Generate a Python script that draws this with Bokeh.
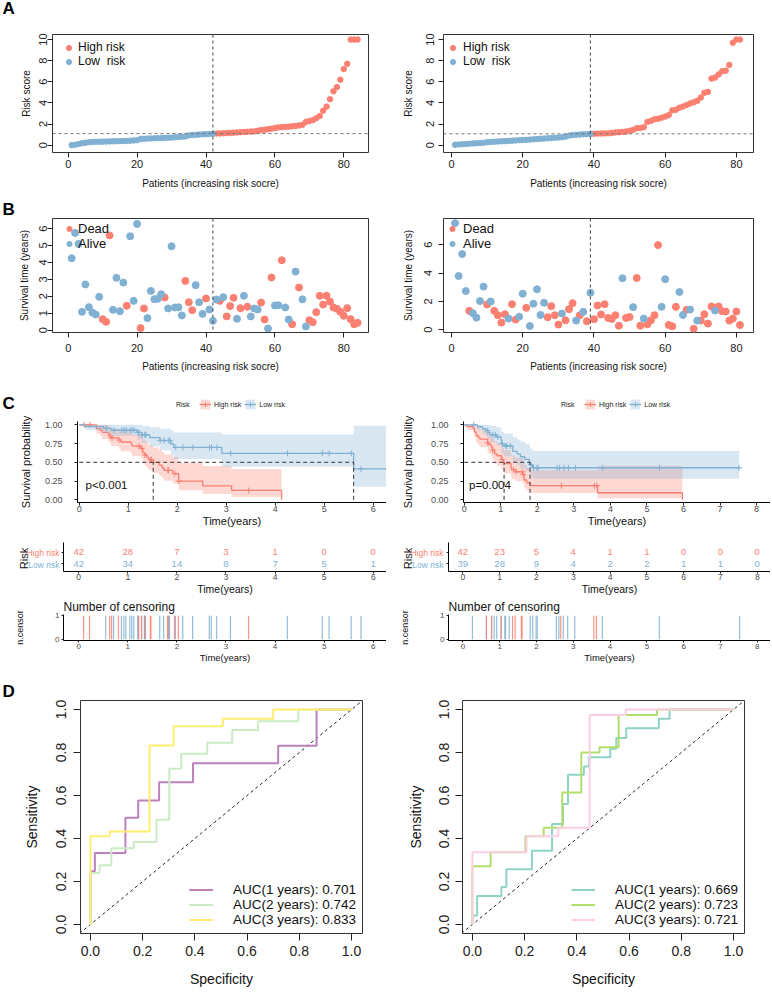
import math
import numpy as np
from bokeh.plotting import figure
from bokeh.layouts import column, row
from bokeh.models import (Range1d, FixedTicker, NumeralTickFormatter, Span, Legend,
                          LegendItem, Label, Slope)
from bokeh.core.properties import value
from bokeh.embed import file_html
from bokeh.resources import INLINE

# ------------------------------------------------------------------ data
# training cohort (left column)
risk_score_train = [0.0, 0.03, 0.1, 0.18, 0.22, 0.27, 0.3, 0.31, 0.32, 0.33, 0.34, 0.35, 0.36, 0.37,
                    0.38, 0.39, 0.4, 0.42, 0.44, 0.47, 0.58, 0.6, 0.62, 0.63, 0.65, 0.66, 0.67, 0.68,
                    0.7, 0.72, 0.74, 0.76, 0.8, 0.82, 0.92, 0.95, 0.98, 1.0, 1.02, 1.04, 1.06, 1.08,
                    1.1, 1.11, 1.12, 1.14, 1.16, 1.18, 1.2, 1.22, 1.24, 1.26, 1.28, 1.3, 1.36, 1.42,
                    1.46, 1.5, 1.56, 1.62, 1.68, 1.7, 1.72, 1.75, 1.78, 1.82, 1.86, 1.92, 2.2, 2.28,
                    2.36, 2.55, 2.75, 3.26, 3.65, 4.35, 5.1, 5.5, 6.2, 7.2, 7.7, 10.0, 10.0, 10.0]
n_low_train = 42
surv_time_train = [4.25, 5.75, 5.1, 1.08, 2.7, 1.36, 1.04, 0.92, 1.97, 0.65,
                   0.49, 5.6, 1.2, 3.09, 1.12, 2.81, 1.44, 5.55, 1.73, 6.28,
                   0.12, 1.28, 0.71, 2.32, 1.83, 1.85, 2.12, 1.93, 1.28, 4.96,
                   1.34, 1.35, 0.87, 2.91, 1.65, 1.18, 2.66, 1.65, 0.96, 1.87,
                   1.22, 0.55, 1.81, 1.73, 1.95, 0.81, 1.42, 1.91, 0.67, 1.3,
                   2.03, 1.38, 0.81, 1.28, 1.22, 1.63, 0.63, 0.1, 3.11, 1.46,
                   1.47, 4.13, 1.34, 0.63, 0.35, 3.46, 2.52, 1.82, 0.22, 0.59,
                   0.47, 1.06, 2.03, 1.51, 2.03, 1.69, 1.34, 1.26, 1.08, 0.85,
                   1.3, 0.65, 0.35, 0.43]
status_train = [0, 0, 0, 0, 0, 0, 0, 0, 0, 1,
                1, 1, 0, 0, 0, 0, 1, 0, 0, 0,
                1, 1, 0, 0, 0, 0, 0, 1, 0, 0,
                0, 0, 0, 1, 1, 1, 0, 0, 0, 1,
                0, 0, 0, 1, 0, 1, 1, 1, 0, 1,
                0, 1, 0, 0, 0, 1, 1, 0, 1, 0,
                0, 1, 0, 0, 1, 0, 1, 0, 0, 1,
                1, 1, 1, 1, 1, 1, 1, 1, 1, 1,
                1, 1, 1, 1]
pval_train = "p<0.001"

# validation cohort (right column)
risk_score_test = [0.03, 0.06, 0.08, 0.1, 0.13, 0.16, 0.18, 0.2, 0.22, 0.28, 0.3, 0.32, 0.34,
                   0.36, 0.38, 0.4, 0.42, 0.44, 0.46, 0.48, 0.5, 0.52, 0.55, 0.57, 0.6, 0.62,
                   0.65, 0.67, 0.7, 0.72, 0.75, 0.8, 0.9, 0.95, 0.98, 1.0, 1.02, 1.04, 1.06,
                   1.08, 1.09, 1.1, 1.11, 1.12, 1.15, 1.2, 1.22, 1.25, 1.28, 1.35, 1.45, 1.6,
                   1.62, 1.7, 2.2, 2.3, 2.45, 2.5, 2.6, 2.7, 2.85, 3.3, 3.35, 3.55, 3.65, 3.8,
                   3.95, 4.05, 4.2, 4.5, 4.95, 5.05, 6.3, 6.4, 6.7, 7.0, 7.05, 7.6, 9.7, 10.0, 10.0]
n_low_test = 39
surv_time_test = [7.52, 3.79, 5.34, 2.73, 1.33, 1.16, 0.85, 2.02, 3.04, 1.78,
                  1.99, 1.33, 1.02, 0.5, 1.09, 0.78, 1.8, 0.71, 0.92, 2.54,
                  1.54, 0.26, 1.83, 2.85, 1.04, 1.9, 0.88, 1.66, 1.02, 0.36,
                  1.14, 0.66, 1.45, 1.87, 0.64, 1.01, 1.26, 0.59, 2.61, 0.74,
                  1.71, 1.07, 1.8, 0.83, 0.76, 1.02, 0.28, 3.63, 0.83, 0.9,
                  1.59, 3.65, 0.28, 0.78, 0.38, 0.66, 1.02, 5.97, 1.61, 3.56,
                  0.33, 0.24, 1.61, 2.66, 1.04, 1.4, 1.42, 0.07, 0.64, 0.64,
                  1.09, 0.43, 1.64, 1.35, 1.64, 1.3, 1.28, 0.64, 0.78, 1.28,
                  0.33]
status_test = [0, 0, 0, 0, 1, 0, 0, 0, 0, 1,
               0, 1, 1, 1, 1, 0, 1, 1, 0, 0,
               1, 0, 0, 0, 0, 0, 1, 1, 1, 1,
               0, 1, 1, 1, 0, 1, 0, 1, 0, 1,
               1, 1, 1, 1, 1, 1, 1, 0, 1, 1,
               0, 1, 1, 0, 1, 1, 1, 1, 0, 0,
               1, 1, 1, 0, 0, 1, 0, 1, 0, 1,
               1, 1, 1, 0, 1, 1, 1, 1, 1, 1,
               1]
pval_test = "p=0.004"

# time-dependent ROC points (x = 1 - specificity, y = sensitivity)
roc_train_1y_fpr = [0, 0, 0.017, 0.017, 0.134, 0.134, 0.183, 0.183, 0.263, 0.263, 0.393, 0.393,
                    0.719, 0.719, 0.866, 0.866, 1.0]
roc_train_1y_tpr = [0, 0.248, 0.248, 0.332, 0.332, 0.496, 0.496, 0.577, 0.577, 0.662, 0.662, 0.75,
                    0.75, 0.831, 0.831, 1.0, 1.0]
roc_train_2y_fpr = [0, 0, 0.035, 0.035, 0.08, 0.08, 0.166, 0.166, 0.253, 0.253, 0.302, 0.302,
                    0.348, 0.348, 0.447, 0.447, 0.543, 0.543, 0.642, 0.642, 0.796, 0.796, 1.0]
roc_train_2y_tpr = [0, 0.24, 0.24, 0.276, 0.276, 0.355, 0.355, 0.384, 0.384, 0.487, 0.487, 0.724,
                    0.724, 0.794, 0.794, 0.845, 0.845, 0.905, 0.905, 0.945, 0.945, 1.0, 1.0]
roc_train_3y_fpr = [0, 0, 0.074, 0.074, 0.226, 0.226, 0.319, 0.319, 0.507, 0.507, 0.7, 0.7, 1.0]
roc_train_3y_tpr = [0, 0.411, 0.411, 0.433, 0.433, 0.833, 0.833, 0.922, 0.922, 0.957, 0.957, 1.0, 1.0]
roc_train_labels = ["AUC(1 years): 0.701", "AUC(2 years): 0.742", "AUC(3 years): 0.833"]

roc_test_1y_fpr = [0, 0, 0.018, 0.018, 0.111, 0.111, 0.13, 0.13, 0.228, 0.228, 0.305, 0.305,
                   0.347, 0.347, 0.366, 0.366, 0.427, 0.427, 0.446, 0.446, 0.528, 0.528, 0.551,
                   0.551, 0.589, 0.589, 0.714, 0.714, 0.755, 0.755, 1.0]
roc_test_1y_tpr = [0, 0.042, 0.042, 0.132, 0.132, 0.174, 0.174, 0.257, 0.257, 0.343, 0.343, 0.468,
                   0.468, 0.561, 0.561, 0.696, 0.696, 0.735, 0.735, 0.778, 0.778, 0.817, 0.817,
                   0.867, 0.867, 0.913, 0.913, 0.957, 0.957, 1.0, 1.0]
roc_test_2y_fpr = [0, 0, 0.07, 0.07, 0.203, 0.203, 0.273, 0.273, 0.344, 0.344, 0.417, 0.417,
                   0.487, 0.487, 0.56, 0.56, 0.707, 0.707, 1.0]
roc_test_2y_tpr = [0, 0.271, 0.271, 0.336, 0.336, 0.411, 0.411, 0.45, 0.45, 0.614, 0.614, 0.8,
                   0.8, 0.825, 0.825, 0.975, 0.975, 1.0, 1.0]
roc_test_3y_fpr = [0, 0, 0.207, 0.207, 0.329, 0.329, 0.449, 0.449, 0.587, 0.587, 1.0]
roc_test_3y_tpr = [0, 0.336, 0.336, 0.41, 0.41, 0.45, 0.45, 0.975, 0.975, 1.0, 1.0]
roc_test_labels = ["AUC(1 years): 0.669", "AUC(2 years): 0.723", "AUC(3 years): 0.721"]

# tick labels
patient_ticks = [0, 20, 40, 60, 80]
risk_ticks = [0, 2, 4, 6, 8, 10]
surv_ticks_train = [0, 1, 2, 3, 4, 5, 6]
surv_ticks_test = [0, 2, 4, 6]
time_ticks_train = [0, 1, 2, 3, 4, 5, 6]
time_ticks_test = [0, 1, 2, 3, 4, 5, 6, 7, 8]
prob_ticks = [0, 0.25, 0.5, 0.75, 1.0]
roc_ticks = [0, 0.2, 0.4, 0.6, 0.8, 1.0]

# ------------------------------------------------------------------ style
FONT = "Liberation Sans"
RED = "#FB8072"
BLUE = "#80B1D3"
ROC_COLS_TRAIN = ["#BC80BD", "#CCEBC5", "#FFED6F"]
ROC_COLS_TEST = ["#8DD3C7", "#B3DE69", "#FCCDE5"]
WL = 386   # left column width
WR = 384   # right column width


def make_fig(w, h, xr, yr, ml, mr, mt, mb, titled=False):
    kw = {} if titled else {"title": None}
    p = figure(width=w, height=h, x_range=Range1d(*xr), y_range=Range1d(*yr),
               output_backend="svg", toolbar_location=None,
               min_border_left=ml, min_border_right=mr, min_border_top=mt, min_border_bottom=mb, **kw)
    p.grid.visible = False
    p.background_fill_color = "white"
    p.border_fill_color = "white"
    return p


def side_fig(w, h, texts):
    # blank strip that only carries texts (panel letters, axis titles, row names)
    f = make_fig(w, h, (0, w), (0, h), 0, 0, 0, 0)
    f.frame_align = False
    f.axis.visible = False
    f.outline_line_color = None
    for (txt, x, y, size, bold, align, angle, color) in texts:
        f.add_layout(Label(x=x, y=y, text=txt, text_font=FONT, text_font_size=size,
                           text_font_style="bold" if bold else "normal", text_align=align,
                           text_baseline="middle", angle=angle, text_color=color))
    return f


def letter(p, txt, offset, standoff):
    p.title.text = txt
    p.title.align = "left"
    p.title.offset = offset
    p.title.standoff = standoff
    p.title.text_font = FONT
    p.title.text_font_size = "17px"
    p.title.text_font_style = "bold"
    p.title.text_color = "black"


def axis_common(ax, tick_len, tick_px, lab_px, std, lab_std, color="#222222"):
    ax.major_tick_out = tick_len
    ax.major_tick_in = 0
    ax.minor_tick_out = 0
    ax.minor_tick_in = 0
    ax.major_tick_line_color = "#222222"
    ax.major_label_text_font = FONT
    ax.major_label_text_font_size = f"{tick_px}px"
    ax.major_label_text_color = color
    ax.major_label_standoff = std
    ax.axis_label_text_font = FONT
    ax.axis_label_text_font_size = f"{lab_px}px"
    ax.axis_label_text_font_style = "normal"
    ax.axis_label_text_color = "#111111"
    ax.axis_label_standoff = lab_std


def r_style(p, xticks, yticks, xlab, ylab, tick_len, tick_px, lab_px, xs, xls, ys, yls, fmt=None):
    p.outline_line_color = "#333333"
    p.outline_line_width = 1
    p.xaxis.ticker = FixedTicker(ticks=xticks)
    p.yaxis.ticker = FixedTicker(ticks=yticks)
    if fmt:
        p.xaxis.formatter = NumeralTickFormatter(format=fmt)
        p.yaxis.formatter = NumeralTickFormatter(format=fmt)
    for ax in p.xaxis:
        ax.axis_line_color = None
        axis_common(ax, tick_len, tick_px, lab_px, xs, xls)
        ax.axis_label = xlab
    for ax in p.yaxis:
        ax.axis_line_color = None
        axis_common(ax, tick_len, tick_px, lab_px, ys, yls)
        ax.axis_label = ylab
        ax.major_label_orientation = "vertical"


def gg_style(p, xticks, yticks, tick_len, tick_px, xs, ys, xlab, ylab, xlab_px, ylab_px, xls, yls):
    p.outline_line_color = None
    p.xaxis.ticker = FixedTicker(ticks=xticks)
    p.yaxis.ticker = FixedTicker(ticks=yticks)
    for ax, s, lab, lpx, ls in ((p.xaxis[0], xs, xlab, xlab_px, xls), (p.yaxis[0], ys, ylab, ylab_px, yls)):
        ax.axis_line_color = "black"
        ax.axis_line_width = 1
        axis_common(ax, tick_len, tick_px, lpx, s, ls, color="#4D4D4D")
        ax.axis_label = lab


# ------------------------------------------------------------------ A: risk score
def risk_fig(w, scores, n_low, ml, mr, xr, leg_x, leg_std, ys, yls):
    sc = np.asarray(scores, float)
    idx = np.arange(1, len(sc) + 1)
    p = make_fig(w, 194, xr, (-0.7, 10.48), ml, mr, 34, 42)
    r_hi = p.scatter(idx[n_low:], sc[n_low:], size=5.5, color=RED)
    r_lo = p.scatter(idx[:n_low], sc[:n_low], size=5.5, color=BLUE)
    p.add_layout(Span(location=n_low, dimension="height", line_dash="3 3", line_color="#444444", line_width=1))
    p.add_layout(Span(location=(sc[n_low - 1] + sc[n_low]) / 2, dimension="width",
                      line_dash="3 3", line_color="#777777", line_width=1))
    r_style(p, patient_ticks, risk_ticks, "Patients (increasing risk socre)", "Risk score",
            5, 11, 10, 2, 7, ys, yls)
    leg = Legend(items=[LegendItem(label="High risk", renderers=[r_hi]),
                        LegendItem(label="Low  risk", renderers=[r_lo])],
                 location=(leg_x, 84), glyph_width=13, glyph_height=13, label_height=13,
                 label_standoff=leg_std, spacing=0, padding=0, margin=0,
                 border_line_color=None, background_fill_alpha=0,
                 label_text_font=FONT, label_text_font_size="12px", label_text_color="#111111")
    p.add_layout(leg)
    return p


# ------------------------------------------------------------------ B: survival status
def status_fig(w, times, status, n_low, ml, mr, xr, yr, yticks, leg_x, leg_std, ys, yls, titled=False):
    t = np.asarray(times, float)
    e = np.asarray(status, int)
    idx = np.arange(1, len(t) + 1)
    p = make_fig(w, 186, xr, yr, ml, mr, 24, 48, titled)
    r_d = p.scatter(idx[e == 1], t[e == 1], size=7, color=RED)
    r_a = p.scatter(idx[e == 0], t[e == 0], size=7, color=BLUE)
    p.add_layout(Span(location=n_low, dimension="height", line_dash="3 3", line_color="#444444", line_width=1))
    r_style(p, patient_ticks, yticks, "Patients (increasing risk socre)", "Survival time (years)",
            5, 11, 10, 6, 6, ys, yls)
    leg = Legend(items=[LegendItem(label="Dead", renderers=[r_d]),
                        LegendItem(label="Alive", renderers=[r_a])],
                 location=(leg_x, 81), glyph_width=18, glyph_height=13, label_height=13,
                 label_standoff=leg_std, spacing=0, padding=0, margin=0,
                 border_line_color=None, background_fill_alpha=0,
                 label_text_font=FONT, label_text_font_size="13px", label_text_color="#111111")
    p.add_layout(leg)
    return p


# ------------------------------------------------------------------ C: Kaplan-Meier
def km_curve(t, e):
    ev = np.unique(t[e == 1])
    s, var = 1.0, 0.0
    st, ss, lo, hi = [], [], [], []
    for u in ev:
        n = np.sum(t >= u)
        d = np.sum((t == u) & (e == 1))
        s *= (n - d) / n
        st.append(u)
        ss.append(s)
        if s > 0:
            var += d / (n * (n - d))
            se = np.sqrt(var)
            lo.append(s * np.exp(-1.96 * se))
            hi.append(min(1.0, s * np.exp(1.96 * se)))
        else:
            lo.append(np.nan)
            hi.append(np.nan)
    return np.array(st), np.array(ss), np.array(lo), np.array(hi)


def groups_of(times, status, n_low):
    t = np.asarray(times, float)
    e = np.asarray(status, int)
    return [("High risk", t[n_low:], e[n_low:], RED), ("Low risk", t[:n_low], e[:n_low], BLUE)]


def km_fig(w, times, status, n_low, xr, xticks, ml, pval, leg_x):
    # frame reaches up to hold the legend; the y axis itself stops at the data range
    ylo, yhi = -0.036, 1.044
    p = make_fig(w, 150, xr, (ylo, 1.377), ml, 0, 16, 28)
    dummy = p.line(x=[], y=[], line_alpha=0)
    items = [LegendItem(label="Risk", renderers=[dummy])]
    meds = []
    for lab, tt, ee, col in groups_of(times, status, n_low):
        st, ss, lo, hi = km_curve(tt, ee)
        tmax = tt.max()
        x = np.concatenate([[0.0], st, [tmax]])
        y = np.concatenate([[1.0], ss, [ss[-1]]])
        ok = ~np.isnan(lo)
        bend = tmax if ok.all() else st[~ok][0]
        bx = np.concatenate([[0.0], st[ok], [bend]])
        blo = np.concatenate([[1.0], lo[ok], [lo[ok][-1]]])
        bhi = np.concatenate([[1.0], hi[ok], [hi[ok][-1]]])
        band = p.varea_step(x=bx, y1=blo, y2=bhi, step_mode="after", fill_color=col, fill_alpha=0.3)
        line = p.step(x=x, y=y, mode="after", line_color=col, line_width=1.3)
        ct = tt[ee == 0]
        cy = [ss[st <= c][-1] if np.any(st <= c) else 1.0 for c in ct]
        cross = p.scatter(ct, cy, marker="cross", size=6, line_color=col, line_width=1)
        items.append(LegendItem(label=lab, renderers=[band, line, cross]))
        if np.any(ss <= 0.5):
            meds.append(st[np.argmax(ss <= 0.5)])
    if meds:
        x0 = [0.0] + meds
        x1 = [max(meds)] + meds
        y0 = [0.5] + [0.0] * len(meds)
        y1 = [0.5] * (len(meds) + 1)
        p.segment(x0=x0, y0=y0, x1=x1, y1=y1, line_color="#333333", line_dash="4 3", line_width=1)
    p.add_layout(Label(x=0.13, y=0.2, text=pval, text_font=FONT, text_font_size="11.5px",
                       text_baseline="middle", text_color="#111111"))
    gg_style(p, xticks, prob_ticks, 3, 9, 0, 12, "Time(years)", None, 11, 11, 0, 0)
    p.yaxis.formatter = NumeralTickFormatter(format="0.00")
    p.yaxis.bounds = (ylo, yhi)
    leg = Legend(items=items, orientation="horizontal", location=(leg_x, 92),
                 glyph_width=12, glyph_height=12, label_height=12, label_standoff=3,
                 spacing=3, padding=0, margin=0, border_line_color=None, background_fill_alpha=0,
                 label_text_font=FONT, label_text_font_size="7px", label_text_color="#222222")
    p.add_layout(leg)
    return p


# ------------------------------------------------------------------ risk table
def table_fig(w, times, status, n_low, xr, xticks, ml):
    p = make_fig(w, 67, xr, (0.33, 2.83), ml, 0, 12, 25)
    for (lab, tt, ee, col), yrow in zip(groups_of(times, status, n_low), (2, 1)):
        counts = [str(int(np.sum(tt >= k))) for k in xticks]
        p.text(x=xticks, y=[yrow] * len(xticks), text=counts, text_color=col,
               text_align="center", text_baseline="middle",
               text_font=value(FONT), text_font_size=value("9.5px"))
    gg_style(p, xticks, [1, 2], 2, 8.5, 0, 0, "Time(years)", None, 10.5, 11, 0, 0)
    p.yaxis.major_label_overrides = {1: "", 2: ""}
    return p


def table_side(w, risk_x):
    return side_fig(w, 67, [("Risk", risk_x, 39, "11px", False, "center", math.pi / 2, "#111111"),
                            ("High risk", w - 1, 45, "8.5px", False, "right", 0, RED),
                            ("Low risk", w - 1, 33, "8.5px", False, "right", 0, BLUE)])


# ------------------------------------------------------------------ censoring
def censor_fig(w, times, status, n_low, xr, xticks, ml):
    p = make_fig(w, 68, xr, (-0.05, 1.05), ml, 0, 16, 24, titled=True)
    for lab, tt, ee, col in reversed(groups_of(times, status, n_low)):
        u, c = np.unique(tt[ee == 0], return_counts=True)
        p.segment(x0=u, y0=np.zeros(len(u)), x1=u, y1=c, line_color=col, line_width=1.2, line_alpha=0.85)
    gg_style(p, xticks, [0, 1], 2, 8, 1, 2, "Time(years)", "n.censor", 9.5, 9, 0, 27)
    p.title.text = "Number of censoring"
    p.title.align = "left"
    p.title.standoff = 1
    p.title.text_font = FONT
    p.title.text_font_size = "12px"
    p.title.text_font_style = "normal"
    p.title.text_color = "#111111"
    return p


# ------------------------------------------------------------------ D: ROC
def roc_fig(w, curves, labels, colors, ml, mr, ys, yls, titled=False):
    p = make_fig(w, 325, (-0.038, 1.042), (-0.042, 1.042), ml, mr, 35, 57, titled)
    p.add_layout(Slope(gradient=1, y_intercept=0, line_dash="3 3", line_color="#222222",
                       line_width=1, level="underlay"))
    items = []
    for (fx, ty), lab, col in zip(curves, labels, colors):
        r = p.line(fx, ty, line_color=col, line_width=2)
        items.append(LegendItem(label=lab, renderers=[r]))
    r_style(p, roc_ticks, roc_ticks, "Specificity", "Sensitivity", 7, 14, 14, 5, 12, ys, yls, fmt="0.0")
    leg = Legend(items=items, location="bottom_right", glyph_width=24, glyph_height=15,
                 label_height=15, label_standoff=20, spacing=0, padding=0, margin=6,
                 border_line_color=None, background_fill_alpha=0,
                 label_text_font=FONT, label_text_font_size="13.5px", label_text_color="#111111")
    p.add_layout(leg)
    return p


# ------------------------------------------------------------------ build
LA = 16
la = side_fig(LA, 194, [("A", 2, 186, "17px", True, "left", 0, "black")])
a1 = risk_fig(WL - LA, risk_score_train, n_low_train, 52 - LA, 18, (-4.56, 87.17), 10, 3, 0, 5)
a2 = risk_fig(WR, risk_score_test, n_low_test, 57, 17, (-2.25, 84.8), 3, 4, 4, 10)

b1 = status_fig(WL, surv_time_train, status_train, n_low_train, 52, 18, (-4.56, 87.17), (-0.14, 6.6),
                surv_ticks_train, 8, 0, 0, 7, titled=True)
b2 = status_fig(WR, surv_time_test, status_test, n_low_test, 57, 17, (-2.25, 84.8), (-0.2, 7.85),
                surv_ticks_test, 0, 2, 6, 8)
letter(b1, "B", -50, 0)

LC = 35
cl = side_fig(LC, 150, [("C", 2, 127, "17px", True, "left", 0, "black"),
                        ("Survival probability", 25, 68.5, "11px", False, "center", math.pi / 2, "#111111")])
c1 = km_fig(WL - LC, surv_time_train, status_train, n_low_train, (-0.035, 6.27), time_ticks_train,
            77 - LC, pval_train, 84)
cr = side_fig(LC, 150, [("Survival probability", 21.7, 68.5, "11px", False, "center", math.pi / 2, "#111111")])
c2 = km_fig(WR - LC, surv_time_test, status_test, n_low_test, (-0.02, 8.38), time_ticks_test, 77 - LC,
            pval_test, 83)

TL, TR = 60, 58
tl = table_side(TL, 23)
t1 = table_fig(WL - TL, surv_time_train, status_train, n_low_train, (-0.31, 6.27), time_ticks_train, 63 - TL)
tr = table_side(TR, 21.7)
t2 = table_fig(WR - TR, surv_time_test, status_test, n_low_test, (-0.39, 8.36), time_ticks_test, 62 - TR)

n1 = censor_fig(WL, surv_time_train, status_train, n_low_train, (-0.31, 6.27), time_ticks_train, 63)
n2 = censor_fig(WR, surv_time_test, status_test, n_low_test, (-0.39, 8.36), time_ticks_test, 62)

d1 = roc_fig(WL, [(roc_train_1y_fpr, roc_train_1y_tpr), (roc_train_2y_fpr, roc_train_2y_tpr),
                  (roc_train_3y_fpr, roc_train_3y_tpr)], roc_train_labels, ROC_COLS_TRAIN, 80, 24, 7, 14,
             titled=True)
d2 = roc_fig(WR, [(roc_test_1y_fpr, roc_test_1y_tpr), (roc_test_2y_fpr, roc_test_2y_tpr),
                  (roc_test_3y_fpr, roc_test_3y_tpr)], roc_test_labels, ROC_COLS_TEST, 76, 26, 6, 13)
letter(d1, "D", -78, 0)

layout = column(row(la, a1, a2), row(b1, b2), row(cl, c1, cr, c2), row(tl, t1, tr, t2), row(n1, n2),
                row(d1, d2))
open("out.html", "w").write(file_html(layout, INLINE, title="Risk model"))
